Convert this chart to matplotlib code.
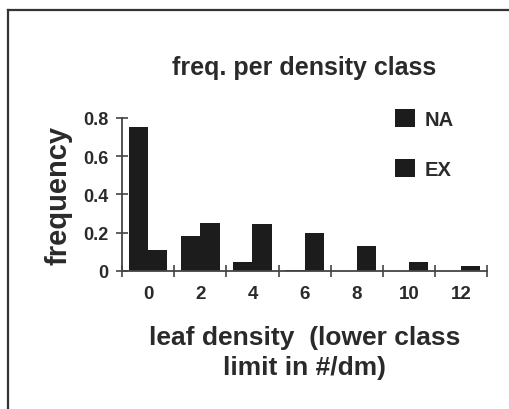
import numpy as np
import matplotlib
matplotlib.use('Agg')
import matplotlib.pyplot as plt
from matplotlib.lines import Line2D
from matplotlib.patches import Patch

plt.rcParams['font.family'] = ['Liberation Sans', 'DejaVu Sans']
plt.rcParams['font.weight'] = 'bold'
plt.rcParams['axes.titleweight'] = 'bold'
plt.rcParams['axes.labelweight'] = 'bold'

# density classes (lower class limit in #/dm)
classes = ['0', '2', '4', '6', '8', '10', '12']
na_freq = [0.755, 0.18, 0.047, 0.006, 0.0, 0.0, 0.0]
ex_freq = [0.11, 0.25, 0.245, 0.2, 0.128, 0.047, 0.026]
y_ticks = [0, 0.2, 0.4, 0.6, 0.8]
y_labels = ['0', '0.2', '0.4', '0.6', '0.8']

ink = '#2a2a2a'
bar_col = '#1c1c1c'

fig = plt.figure(figsize=(5.09, 4.10), dpi=100)
ax = fig.add_axes([0.2397, 0.3373, 0.7175, 0.3725])

x = np.arange(len(classes))
w = 0.37
ax.bar(x - w/2, na_freq, w, color=bar_col, label='NA')
ax.bar(x + w/2, ex_freq, w, color=bar_col, label='EX')

ax.set_xlim(-0.5, len(classes) - 0.5)
ax.set_ylim(0, 0.8)

for s in ['top', 'right']:
    ax.spines[s].set_visible(False)
for s in ['left', 'bottom']:
    ax.spines[s].set_color('#444444')
    ax.spines[s].set_linewidth(1.3)

ax.set_yticks(y_ticks)
ax.set_yticklabels(y_labels)
ax.tick_params(axis='y', direction='inout', length=9, width=1.2, color='#444444',
               labelsize=13, labelcolor=ink, pad=5)

ax.set_xticks(x)
ax.set_xticklabels(classes)
ax.set_xticks(np.arange(len(classes) + 1) - 0.5, minor=True)
ax.tick_params(axis='x', which='major', length=0, labelsize=13.5, labelcolor=ink, pad=10)
ax.tick_params(axis='x', which='minor', direction='inout', length=9, width=1.2, color='#444444')

ax.set_ylabel('frequency', fontsize=21, color=ink, labelpad=8)
ax.set_xlabel('leaf density  (lower class\nlimit in #/dm)', fontsize=19, color=ink,
              linespacing=1.32, labelpad=17)
ax.set_title('freq. per density class', fontsize=18, color=ink, pad=32)

handles = [Patch(facecolor=bar_col, label='NA'), Patch(facecolor=bar_col, label='EX')]
ax.legend(handles=handles, loc='upper left', bbox_to_anchor=(0.698, 1.18), frameon=False,
          handlelength=1.0, handleheight=1.0, handletextpad=0.45, labelspacing=1.5,
          prop={'size': 14.5, 'weight': 'bold'}, labelcolor=ink)

# scanned frame: left and top edges only
fig.add_artist(Line2D([8/509, 8/509], [0, 1 - 11/410], color='#333333', lw=1.6))
fig.add_artist(Line2D([8/509, 1], [1 - 11/410, 1 - 11/410], color='#333333', lw=1.6))

fig.savefig('out.png', dpi=100)
